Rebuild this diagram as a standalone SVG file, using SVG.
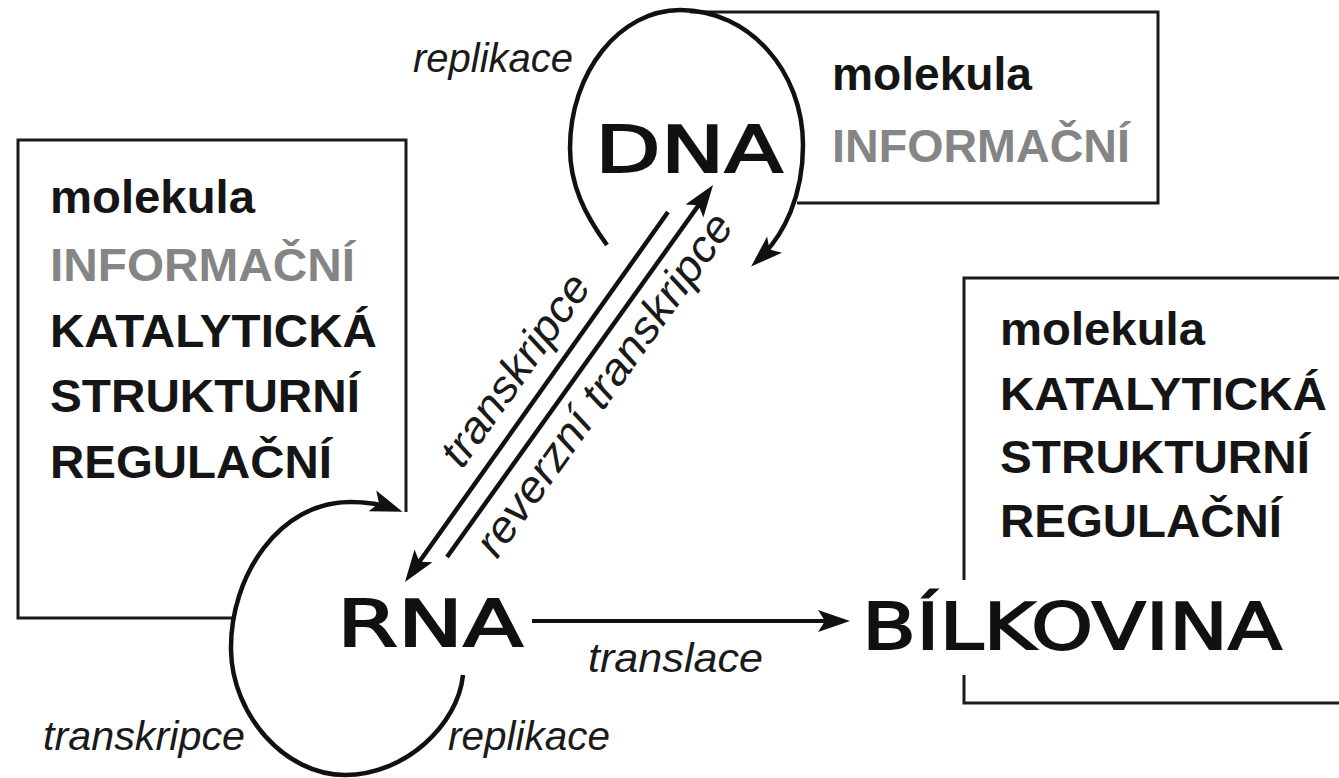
<svg xmlns="http://www.w3.org/2000/svg" width="1339" height="778" viewBox="0 0 1339 778">
<style>
.box{fill:none;stroke:#1a1a1a;stroke-width:3}
.lbl{font-family:"Liberation Sans",Arial,sans-serif;font-weight:bold;font-size:47px;fill:#151515}
.gray{fill:#858585}
.big{font-family:"DejaVu Sans",sans-serif;font-weight:normal;font-size:64px;fill:#111;stroke:#111;stroke-width:1.8}
.it{font-family:"Liberation Sans",Arial,sans-serif;font-style:italic;font-size:40px;fill:#1a1a1a}
.conn{fill:none;stroke:#111;stroke-width:4.5}
</style>
<defs>
<marker id="ah" viewBox="-30 -15 40 30" markerWidth="40" markerHeight="30" refX="0" refY="0" markerUnits="userSpaceOnUse" orient="auto">
<path d="M 8 0 L -24 -11 L -17 0 L -24 11 Z" fill="#111"/>
</marker>
</defs>
<rect width="1339" height="778" fill="#fff"/>

<g id="box-rna">
<path class="box" d="M 406 512 L 406 140 L 18 140 L 18 618 L 232 618"/>
<text class="lbl" x="50" y="213" textLength="205" lengthAdjust="spacingAndGlyphs">molekula</text>
<text class="lbl gray" x="50" y="281" textLength="305" lengthAdjust="spacingAndGlyphs">INFORMAČNÍ</text>
<text class="lbl" x="50" y="347" textLength="327" lengthAdjust="spacingAndGlyphs">KATALYTICKÁ</text>
<text class="lbl" x="50" y="412" textLength="310" lengthAdjust="spacingAndGlyphs">STRUKTURNÍ</text>
<text class="lbl" x="50" y="478" textLength="282" lengthAdjust="spacingAndGlyphs">REGULAČNÍ</text>
</g>

<g id="box-dna">
<path class="box" d="M 690 12 L 1158 12 L 1158 203 L 797 203"/>
<text class="lbl" x="832" y="90" textLength="200" lengthAdjust="spacingAndGlyphs">molekula</text>
<text class="lbl gray" x="832" y="162" textLength="298" lengthAdjust="spacingAndGlyphs">INFORMAČNÍ</text>
</g>

<g id="box-protein">
<path class="box" d="M 1339 278 L 964 278 L 964 580 M 964 675 L 964 703 L 1339 703"/>
<text class="lbl" x="1000" y="345" textLength="205" lengthAdjust="spacingAndGlyphs">molekula</text>
<text class="lbl" x="1000" y="410" textLength="327" lengthAdjust="spacingAndGlyphs">KATALYTICKÁ</text>
<text class="lbl" x="1000" y="473" textLength="310" lengthAdjust="spacingAndGlyphs">STRUKTURNÍ</text>
<text class="lbl" x="1000" y="537" textLength="282" lengthAdjust="spacingAndGlyphs">REGULAČNÍ</text>
</g>

<g id="node-dna">
<text class="big" x="595" y="172" textLength="188" lengthAdjust="spacingAndGlyphs">DNA</text>
</g>
<g id="node-rna">
<text class="big" x="337" y="646" textLength="186" lengthAdjust="spacingAndGlyphs">RNA</text>
</g>
<g id="node-protein">
<text class="big" x="862" y="649" textLength="420" lengthAdjust="spacingAndGlyphs">BÍLKOVINA</text>
</g>

<g id="connectors">
<path class="conn" marker-end="url(#ah)" d="M 607 245 C 585 215 570 185 570 148 C 570 72 620 10 680 10 C 750 10 803 72 803 145 C 803 195 785 235 757 261"/>
<path class="conn" marker-end="url(#ah)" d="M 463 675 C 458 725 405 775 345 775 C 285 775 232 715 231 650 C 230 575 280 502 350 502 C 368 502 384 505 395 509"/>
<line class="conn" marker-end="url(#ah)" x1="668" y1="212" x2="409.6" y2="575.5"/>
<line class="conn" marker-end="url(#ah)" x1="447" y1="557" x2="708.4" y2="191.5"/>
<line class="conn" marker-end="url(#ah)" x1="532" y1="621" x2="842" y2="621" style="stroke-width:4"/>
<text class="it" x="413" y="72" textLength="160" lengthAdjust="spacingAndGlyphs">replikace</text>
<text class="it" x="43" y="750" textLength="202" lengthAdjust="spacingAndGlyphs">transkripce</text>
<text class="it" x="448" y="750" textLength="162" lengthAdjust="spacingAndGlyphs">replikace</text>
<text class="it" x="588" y="672" textLength="175" lengthAdjust="spacingAndGlyphs">translace</text>
<text class="it" x="462" y="470" transform="rotate(-54.6 462 470)" style="font-size:44px" textLength="225" lengthAdjust="spacingAndGlyphs">transkripce</text>
<text class="it" x="497" y="560" transform="rotate(-54.5 497 560)" style="font-size:44px" textLength="410" lengthAdjust="spacingAndGlyphs">reverzní transkripce</text>
</g>
</svg>
